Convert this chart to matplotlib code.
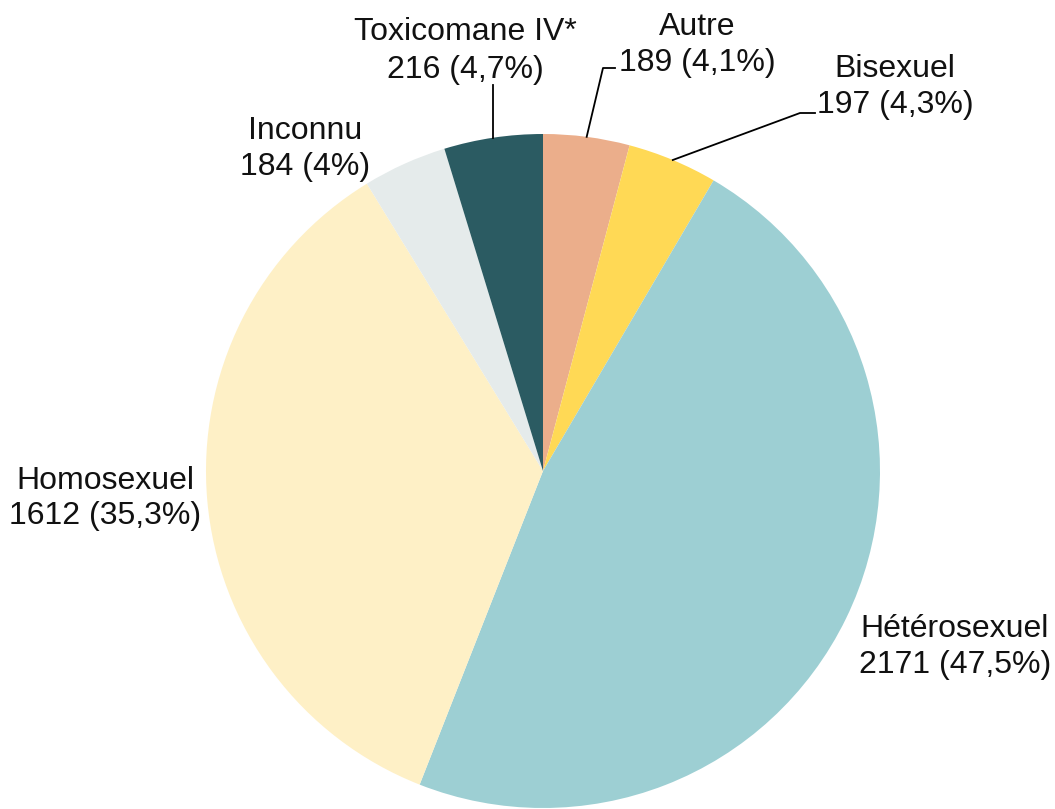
import matplotlib
matplotlib.use("Agg")
import matplotlib.pyplot as plt
import numpy as np

categories = ["Autre", "Bisexuel", "Hétérosexuel", "Homosexuel", "Inconnu", "Toxicomane IV*"]
values = [189, 197, 2171, 1612, 184, 216]
colors = ["#EBAE8B", "#FFD955", "#9DCFD3", "#FEF0C6", "#E5EBEB", "#2B5B62"]

W, H = 1055, 809
fig = plt.figure(figsize=(W / 100, H / 100), dpi=100)
ax = fig.add_axes([0, 0, 1, 1])
ax.set_xlim(0, W)
ax.set_ylim(0, H)
ax.set_aspect("equal")
ax.axis("off")

cx, cy, R = 543, H - 471, 337
wedges, _ = ax.pie(values, colors=colors, startangle=90, counterclock=False,
                   radius=R, center=(cx, cy), frame=True,
                   wedgeprops=dict(linewidth=0))
ax.set_xlim(0, W)
ax.set_ylim(0, H)
ax.axis("off")

total = sum(values)

def fmt(v):
    p = round(v / total * 100, 1)
    s = f"{p:.1f}".replace(".", ",")
    if s.endswith(",0"):
        s = s[:-2]
    return f"{v} ({s}%)"

plt.rcParams["font.family"] = ["Liberation Sans", "DejaVu Sans"]
fs = 23
# label layout in image pixel coordinates: (center x, baseline line1, baseline line2)
layout = {
    "Autre": (697, 35, 71),
    "Bisexuel": (895, 77, 113),
    "Hétérosexuel": (955, 637, 673),
    "Homosexuel": (105, 489, 524),
    "Inconnu": (305, 139, 175),
    "Toxicomane IV*": (465, 40, 78),
}
for cat, v in zip(categories, values):
    x, b1, b2 = layout[cat]
    ax.text(x, H - b1, cat, ha="center", va="baseline", fontsize=fs, color="#111111")
    ax.text(x, H - b2, fmt(v), ha="center", va="baseline", fontsize=fs, color="#111111")

# leader lines
mids = {}
for w, cat in zip(wedges, categories):
    mids[cat] = np.deg2rad((w.theta1 + w.theta2) / 2)

def anchor(cat):
    a = mids[cat]
    return cx + R * np.cos(a), cy + R * np.sin(a)

lw = 1.3
x0, y0 = anchor("Toxicomane IV*")
ax.plot([x0, x0], [y0, H - 85], color="black", lw=lw)
x0, y0 = anchor("Autre")
ax.plot([x0, 603, 615], [y0, H - 68, H - 68], color="black", lw=lw)
x0, y0 = anchor("Bisexuel")
ax.plot([x0, 800, 815], [y0, H - 113, H - 113], color="black", lw=lw)

fig.savefig("out.png", dpi=100)
